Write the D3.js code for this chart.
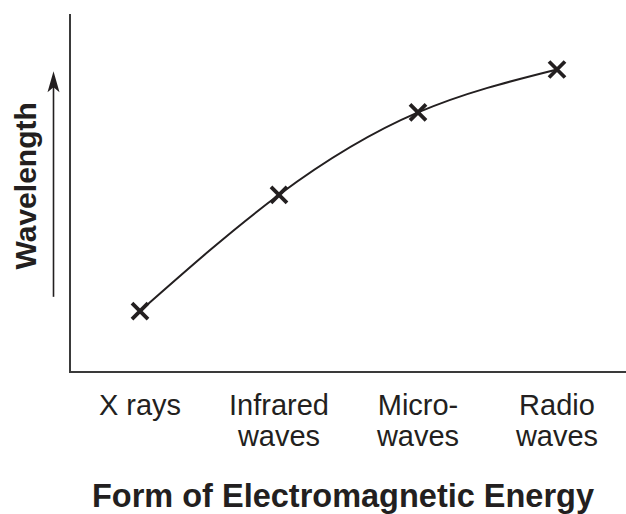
<!DOCTYPE html>
<html>
<head>
<meta charset="utf-8">
<script src="https://cdn.jsdelivr.net/npm/d3@7"></script>
<style>
body { margin: 0; background: #fff; }
text { font-family: "Liberation Sans", Arial, sans-serif; fill: #231f20; }
</style>
</head>
<body>
<script>
// categories along the bottom, each one may wrap to two lines
var forms = ['X rays', 'Infrared waves', 'Microwaves', 'Radio waves'];
var formLines = [['X rays'], ['Infrared', 'waves'], ['Micro-', 'waves'], ['Radio', 'waves']];
// relative wavelength (no units on the original)
var wavelength = [17, 49.5, 72.5, 84.5];

var width = 626, height = 514;

var svg = d3.select('body').append('svg')
	.attr('width', width)
	.attr('height', height);

var x = d3.scalePoint()
	.domain(forms)
	.range([140, 557]);

var y = d3.scaleLinear()
	.domain([0, 100])
	.range([372, 14]);

// axes, just the left and bottom line
svg.append('path')
	.attr('d', 'M70,14 V372 H626')
	.attr('fill', 'none')
	.attr('stroke', '#3a3a3a')
	.attr('stroke-width', 2);

// arrow next to the y label
var tip = y(84);
svg.append('line')
	.attr('x1', 53.5).attr('y1', y(21))
	.attr('x2', 53.5).attr('y2', tip + 12)
	.attr('stroke', '#231f20')
	.attr('stroke-width', 1.6);
svg.append('path')
	.attr('d', 'M53.5,' + tip + ' l-6,21 l6,-5 l6,5 Z')
	.attr('fill', '#231f20');

svg.append('text')
	.attr('transform', 'translate(36,' + y(52) + ') rotate(-90)')
	.attr('text-anchor', 'middle')
	.attr('font-weight', 'bold')
	.attr('font-size', 30)
	.text('Wavelength');

// the curve
var pts = forms.map(function(f, i) { return [x(f), y(wavelength[i])]; });

svg.append('path')
	.attr('d', d3.line().curve(d3.curveNatural)(pts))
	.attr('fill', 'none')
	.attr('stroke', '#231f20')
	.attr('stroke-width', 2);

var s = 8;
svg.selectAll('.cross')
	.data(pts).enter()
	.append('path')
	.attr('class', 'cross')
	.attr('d', function(d) {
		return 'M' + (d[0] - s) + ',' + (d[1] - s) + 'L' + (d[0] + s) + ',' + (d[1] + s) +
			'M' + (d[0] - s) + ',' + (d[1] + s) + 'L' + (d[0] + s) + ',' + (d[1] - s);
	})
	.attr('stroke', '#231f20')
	.attr('stroke-width', 3.8)
	.attr('fill', 'none');

// category labels
var lbl = svg.selectAll('.lbl')
	.data(forms).enter()
	.append('text')
	.attr('class', 'lbl')
	.attr('text-anchor', 'middle')
	.attr('font-size', 29)
	.attr('x', function(d) { return x(d); })
	.attr('y', 415);

lbl.selectAll('tspan')
	.data(function(d, i) { return formLines[i]; }).enter()
	.append('tspan')
	.attr('x', function() { return x(d3.select(this.parentNode).datum()); })
	.attr('dy', function(d, i) { return i ? 31 : 0; })
	.text(function(d) { return d; });

svg.append('text')
	.attr('x', 343)
	.attr('y', 507)
	.attr('text-anchor', 'middle')
	.attr('font-weight', 'bold')
	.attr('font-size', 32.5)
	.text('Form of Electromagnetic Energy');
</script>
</body>
</html>
